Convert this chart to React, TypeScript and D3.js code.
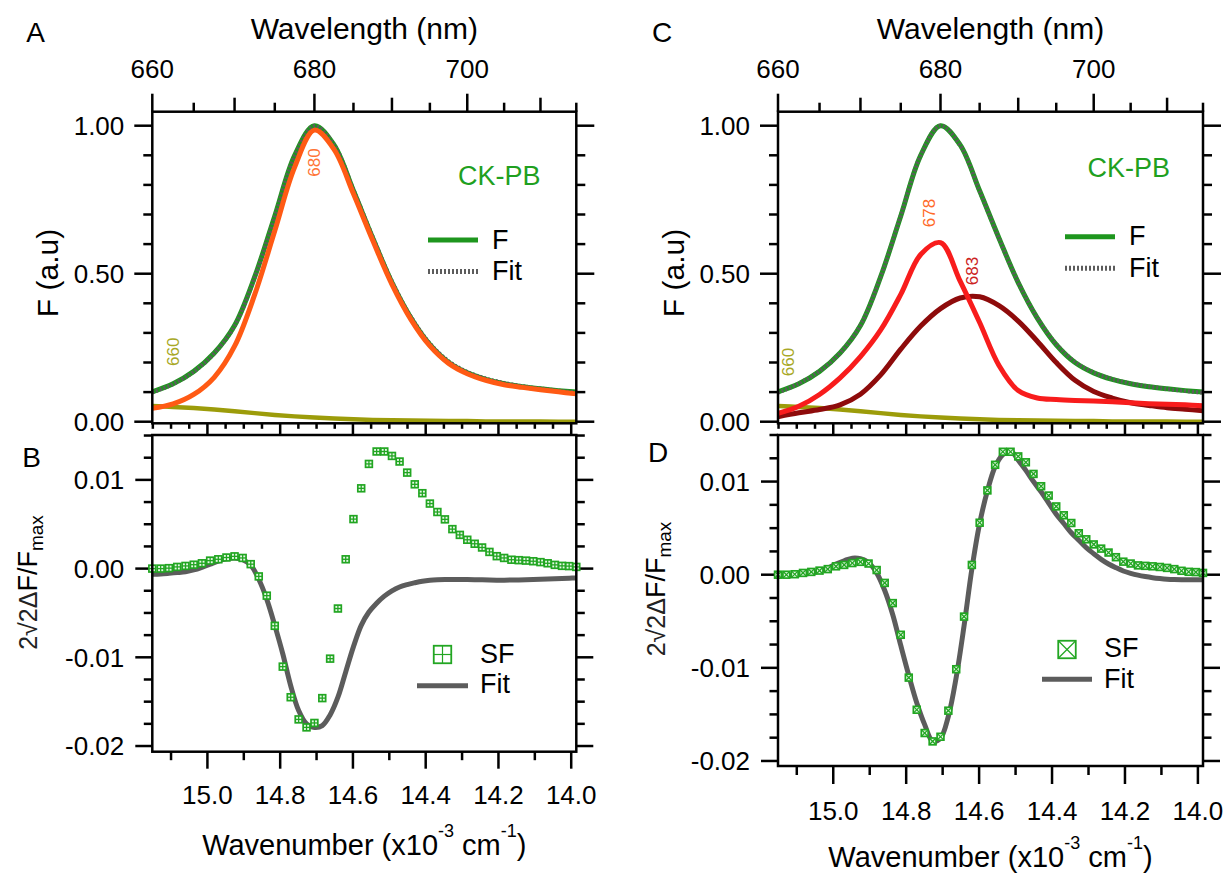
import React from 'react';
import * as d3 from 'd3';

// emission spectrum grid (nm) and band decomposition, CK-PB
const WL = [660, 662.5, 665, 667.5, 670, 672.5, 675, 677.5, 680, 682.5, 685, 687.5, 690, 692.5, 695, 697.5, 700, 702.5, 705, 707.5, 710, 712.5, 715];
const F_CKPB = [0.101, 0.128, 0.17, 0.232, 0.325, 0.49, 0.695, 0.9, 1.0, 0.935, 0.78, 0.62, 0.47, 0.35, 0.26, 0.2, 0.165, 0.143, 0.128, 0.118, 0.111, 0.105, 0.1];
const FIT_A = [0.099, 0.127, 0.169, 0.231, 0.324, 0.488, 0.693, 0.898, 0.999, 0.936, 0.783, 0.624, 0.474, 0.354, 0.264, 0.204, 0.168, 0.146, 0.131, 0.12, 0.112, 0.105, 0.099];
const BAND_660 = [0.053, 0.05, 0.046, 0.041, 0.035, 0.029, 0.023, 0.018, 0.014, 0.011, 0.008, 0.006, 0.005, 0.004, 0.003, 0.002, 0.002, 0.001, 0.001, 0.001, 0.001, 0.0, 0.0];
const BAND_680 = [0.045, 0.06, 0.092, 0.15, 0.255, 0.43, 0.645, 0.86, 0.985, 0.92, 0.77, 0.612, 0.464, 0.345, 0.256, 0.197, 0.162, 0.14, 0.125, 0.116, 0.108, 0.101, 0.094];
const FIT_C = [0.098, 0.129, 0.171, 0.232, 0.326, 0.49, 0.696, 0.9, 1.0, 0.934, 0.779, 0.619, 0.47, 0.351, 0.262, 0.202, 0.166, 0.144, 0.129, 0.119, 0.111, 0.104, 0.098];
const BAND_678 = [0.028, 0.052, 0.092, 0.148, 0.22, 0.31, 0.43, 0.565, 0.605, 0.475, 0.335, 0.19, 0.105, 0.08, 0.075, 0.072, 0.07, 0.067, 0.064, 0.061, 0.059, 0.057, 0.054];
const BAND_683 = [0.017, 0.03, 0.041, 0.057, 0.093, 0.158, 0.245, 0.323, 0.382, 0.418, 0.422, 0.392, 0.34, 0.272, 0.2, 0.14, 0.102, 0.08, 0.064, 0.055, 0.047, 0.042, 0.037];

// Stark signal, 1 nm steps, values in units of 1e-3
const WL_SF = [660, 661, 662, 663, 664, 665, 666, 667, 668, 669, 670, 671, 672, 673, 674, 675, 676, 677, 678, 679, 680, 681, 682, 683, 684, 685, 686, 687, 688, 689, 690, 691, 692, 693, 694, 695, 696, 697, 698, 699, 700, 701, 702, 703, 704, 705, 706, 707, 708, 709, 710, 711, 712, 713, 714, 715];
const SF = [0, 0, 0.05, 0.19, 0.3, 0.44, 0.6, 0.9, 1.05, 1.25, 1.38, 1.2, 0.5, -0.88, -3.05, -6.45, -11.05, -14.5, -17.0, -17.9, -17.4, -14.6, -10.15, -4.5, 1.05, 5.58, 9.05, 11.8, 13.2, 13.2, 12.7, 12.07, 10.82, 9.5, 8.5, 7.33, 6.38, 5.55, 4.45, 3.8, 3.25, 2.8, 2.38, 1.88, 1.4, 1.2, 1.0, 0.95, 0.9, 0.83, 0.73, 0.6, 0.42, 0.31, 0.28, 0.19];
const SF_FIT_B = [-0.64, -0.6, -0.53, -0.45, -0.35, -0.15, 0.15, 0.5, 0.85, 1.1, 1.2, 1.0, 0.4, -1.2, -3.46, -6.4, -9.6, -13.2, -16.0, -17.5, -17.9, -17.7, -16.5, -14.5, -11.65, -8.8, -6.4, -4.9, -3.9, -3.1, -2.5, -2.07, -1.8, -1.6, -1.43, -1.32, -1.26, -1.23, -1.22, -1.22, -1.23, -1.25, -1.27, -1.29, -1.3, -1.3, -1.29, -1.28, -1.26, -1.24, -1.21, -1.18, -1.15, -1.12, -1.08, -1.05];
const SF_FIT_D = [-0.1, -0.08, -0.05, 0.05, 0.15, 0.4, 0.7, 1.15, 1.5, 1.78, 1.72, 1.3, 0.2, -1.7, -4.3, -7.6, -10.8, -13.75, -16.1, -17.86, -17.55, -15.2, -11.0, -5.5, 0.6, 5.5, 9.0, 11.6, 12.9, 13.3, 12.3, 11.2, 10.0, 8.9, 7.7, 6.5, 5.5, 4.5, 3.7, 2.9, 2.25, 1.65, 1.15, 0.75, 0.4, 0.15, -0.05, -0.2, -0.32, -0.41, -0.48, -0.52, -0.54, -0.54, -0.54, -0.54];

const WL_LABELS = [660, 680, 700];
const WN_LABELS = [15.0, 14.8, 14.6, 14.4, 14.2, 14.0];
const F_LABELS = [0, 0.5, 1.0];
const SF_LABELS = [-0.02, -0.01, 0, 0.01];

const FONT = '"Liberation Sans", Arial, Helvetica, sans-serif';
const GREEN = '#1e961e';
const FIT_GRAY = '#5c5c5c';
const SF_GREEN = '#22a622';

const LEFT = { x0: 152.3, x1: 576.3 };
const RIGHT = { x0: 778, x1: 1203 };

const wn = (l: number) => 1e4 / l;
const xScale = (p: { x0: number; x1: number }) =>
  d3.scaleLinear().domain([wn(660), wn(715)]).range([p.x0, p.x1]);

const yTop = d3.scaleLinear().domain([-0.0054, 1.0473]).range([423.3, 111.7]);
const yB = d3.scaleLinear().domain([-0.02064, 0.01506]).range([751.7, 435]);
const yD = d3.scaleLinear().domain([-0.02054, 0.015]).range([766, 435]);

const isMult = (v: number, step: number) => Math.abs(v / step - Math.round(v / step)) < 1e-6;

const bandPath = (x: any, y: any, vals: number[]) =>
  d3.line<number>()
    .x((_, i) => x(wn(WL[i])))
    .y(v => y(v))
    .curve(d3.curveCatmullRom.alpha(0.5))(vals) || '';

const sfPath = (x: any, y: any, vals: number[]) =>
  d3.line<number>()
    .x((_, i) => x(wn(WL_SF[i])))
    .y(v => y(v / 1000))
    .curve(d3.curveCatmullRom.alpha(0.5))(vals) || '';

const txt = (size: number, extra: any = {}) => ({ fontFamily: FONT, fontSize: size, ...extra });

function SpectrumPanel({ p, letter, bands, fit, notes, legendX, legendY, tagPos }: any) {
  const x = xScale(p);
  const y = yTop;
  const top = 111.7, bottom = 423.3;
  const cx = (p.x0 + p.x1) / 2;
  const wlTicks = d3.range(660, 716, 5);
  const yTicks = d3.range(0, 1.0001, 0.1);
  const xTicks = d3.range(14.0, 15.151, 0.05);
  return (
    <g>
      <text x={p.x0 - 126} y={41.7} {...txt(28)}>{letter}</text>
      <text x={cx} y={38.5} textAnchor="middle" {...txt(30)}>Wavelength (nm)</text>
      {WL_LABELS.map(l => (
        <text key={l} x={x(wn(l))} y={78} textAnchor="middle" {...txt(26)}>{l}</text>
      ))}
      <g stroke="#000" strokeWidth={2.5}>
        {wlTicks.map(l => {
          const len = l % 20 === 0 ? 18 : l % 10 === 0 ? 14 : 9;
          return <line key={l} x1={x(wn(l))} x2={x(wn(l))} y1={top} y2={top - len} />;
        })}
        {yTicks.map((v, i) => {
          const len = isMult(v, 0.5) ? 18 : 9;
          return (
            <g key={i}>
              <line x1={p.x0} x2={p.x0 - len} y1={y(v)} y2={y(v)} />
              <line x1={p.x1} x2={p.x1 + len} y1={y(v)} y2={y(v)} />
            </g>
          );
        })}
        {xTicks.map((v, i) => {
          const len = isMult(v, 0.2) ? 11 : 5.5;
          return <line key={i} x1={x(v)} x2={x(v)} y1={bottom} y2={bottom + len} />;
        })}
      </g>
      {F_LABELS.map(v => (
        <text key={v} x={p.x0 - 28} y={y(v)} dy="0.36em" textAnchor="end" {...txt(26)}>{v.toFixed(2)}</text>
      ))}
      <text transform={`translate(${p.x0 - 94},273) rotate(-90)`} textAnchor="middle" {...txt(30)}>F (a.u)</text>

      <path d={bandPath(x, y, F_CKPB)} fill="none" stroke={GREEN} strokeWidth={5} />
      <path d={bandPath(x, y, fit)} fill="none" stroke={FIT_GRAY} strokeWidth={4} strokeDasharray="2 2" />
      {bands.map((b: any, i: number) => (
        <path key={i} d={bandPath(x, y, b.vals)} fill="none" stroke={b.color} strokeWidth={b.w} />
      ))}
      {notes.map((n: any, i: number) => (
        <text key={i} transform={`translate(${x(wn(n.wl))},${n.y}) rotate(-90)`} textAnchor="middle" dominantBaseline="central" {...txt(17, { fill: n.color })}>{n.label}</text>
      ))}

      <text x={tagPos[0]} y={tagPos[1]} {...txt(27, { fill: '#1fa01f' })}>CK-PB</text>
      <line x1={legendX} x2={legendX + 50} y1={legendY} y2={legendY} stroke={GREEN} strokeWidth={5} />
      <text x={legendX + 64} y={legendY + 8.5} {...txt(27)}>F</text>
      <line x1={legendX} x2={legendX + 50} y1={legendY + 31.5} y2={legendY + 31.5} stroke={FIT_GRAY} strokeWidth={5} strokeDasharray="2 2" />
      <text x={legendX + 64} y={legendY + 40} {...txt(27)}>Fit</text>

      <rect x={p.x0} y={top} width={p.x1 - p.x0} height={bottom - top} fill="none" stroke="#000" strokeWidth={2.5} />
    </g>
  );
}

function Marker({ cx, cy, s, cross }: any) {
  const h = s / 2;
  const big = s > 10;
  return (
    <g stroke={SF_GREEN}>
      <rect x={cx - h} y={cy - h} width={s} height={s} fill={big ? '#fff' : '#e6f6e6'} strokeWidth={big ? 1.8 : 1.7} />
      {cross ? (
        <g strokeWidth={big ? 1.2 : 1.3}>
          <line x1={cx - h} y1={cy - h} x2={cx + h} y2={cy + h} />
          <line x1={cx - h} y1={cy + h} x2={cx + h} y2={cy - h} />
        </g>
      ) : (
        <g strokeWidth={big ? 1.2 : 1.3}>
          <line x1={cx} y1={cy - h} x2={cx} y2={cy + h} />
          <line x1={cx - h} y1={cy} x2={cx + h} y2={cy} />
        </g>
      )}
    </g>
  );
}

function StarkPanel({ p, y, letter, letterY, fit, cross, labelsY, titleY, ylabelX, ylabelY, legend }: any) {
  const x = xScale(p);
  const top = 435;
  const bottom = y.range()[0];
  const cx = (p.x0 + p.x1) / 2;
  const yTicks = d3.range(-0.02, 0.01501, 0.0025);
  const xTicks = d3.range(14.0, 15.101, 0.1);
  const majLen = bottom > 760 ? 18 : 17;
  return (
    <g>
      <text x={p.x0 - 130} y={letterY} {...txt(28)}>{letter}</text>
      <g stroke="#000" strokeWidth={2.5}>
        {yTicks.map((v, i) => {
          const len = isMult(v, 0.01) ? 17 : 8.5;
          return (
            <g key={i}>
              <line x1={p.x0} x2={p.x0 - len} y1={y(v)} y2={y(v)} />
              <line x1={p.x1} x2={p.x1 + len} y1={y(v)} y2={y(v)} />
            </g>
          );
        })}
        {xTicks.map((v, i) => {
          const len = isMult(v, 0.2) ? majLen : majLen / 2;
          return <line key={i} x1={x(v)} x2={x(v)} y1={bottom} y2={bottom + len} />;
        })}
      </g>
      {SF_LABELS.map(v => (
        <text key={v} x={p.x0 - 28} y={y(v)} dy="0.36em" textAnchor="end" {...txt(26)}>{v.toFixed(2)}</text>
      ))}
      {WN_LABELS.map(v => (
        <text key={v} x={x(v)} y={labelsY} textAnchor="middle" {...txt(26)}>{v.toFixed(1)}</text>
      ))}
      <text x={cx} y={titleY} textAnchor="middle" {...txt(29)}>
        Wavenumber (x10<tspan fontSize={18} dy={-18}>-3</tspan><tspan dy={18}> cm</tspan><tspan fontSize={18} dy={-18}>-1</tspan><tspan dy={18}>)</tspan>
      </text>
      <text transform={`translate(${ylabelX},${ylabelY}) rotate(-90)`} textAnchor="middle" {...txt(27)}>
        <tspan fontSize={25} fill="#222">2√2Δ</tspan>F/F<tspan fontSize={19} dy={6}>max</tspan>
      </text>

      <path d={sfPath(x, y, fit)} fill="none" stroke={FIT_GRAY} strokeWidth={5} />
      {SF.map((v, i) => (
        <Marker key={i} cx={x(wn(WL_SF[i]))} cy={y(v / 1000)} s={6.8} cross={cross} />
      ))}

      <Marker cx={legend.box[0]} cy={legend.box[1]} s={17.5} cross={cross} />
      <text x={legend.text} y={legend.sfY} {...txt(27)}>SF</text>
      <line x1={legend.line[0]} x2={legend.line[1]} y1={legend.lineY} y2={legend.lineY} stroke={FIT_GRAY} strokeWidth={5} />
      <text x={legend.text} y={legend.fitY} {...txt(27)}>Fit</text>

      <rect x={p.x0} y={top} width={p.x1 - p.x0} height={bottom - top} fill="none" stroke="#000" strokeWidth={2.5} />
    </g>
  );
}

export default function App() {
  return (
    <svg width={1227} height={875} style={{ position: 'absolute', left: 0, top: 0, background: '#fff' }}>
      <SpectrumPanel
        p={LEFT}
        letter="A"
        fit={FIT_A}
        bands={[
          { vals: BAND_660, color: '#9c9c0a', w: 4.5 },
          { vals: BAND_680, color: '#ff5a14', w: 5 },
        ]}
        notes={[
          { wl: 680, y: 162.5, label: '680', color: '#ff7436' },
          { wl: 662.5, y: 351.7, label: '660', color: '#a8a826' },
        ]}
        legendX={428}
        legendY={240}
        tagPos={[458, 185]}
      />
      <SpectrumPanel
        p={RIGHT}
        letter="C"
        fit={FIT_C}
        bands={[
          { vals: BAND_660, color: '#9c9c0a', w: 4.5 },
          { vals: BAND_683, color: '#8e0b0b', w: 5 },
          { vals: BAND_678, color: '#f81c1c', w: 5 },
        ]}
        notes={[
          { wl: 678.6, y: 213, label: '678', color: '#ff6a2a' },
          { wl: 684.1, y: 271, label: '683', color: '#cc2222' },
          { wl: 661.2, y: 362, label: '660', color: '#a8a826' },
        ]}
        legendX={1065}
        legendY={236.7}
        tagPos={[1087.6, 177.3]}
      />
      <StarkPanel
        p={LEFT}
        y={yB}
        letter="B"
        letterY={466.7}
        fit={SF_FIT_B}
        cross={false}
        labelsY={803.5}
        titleY={855}
        ylabelX={37}
        ylabelY={582.5}
        legend={{ box: [442.5, 654.5], text: 480, sfY: 663, line: [417, 468], lineY: 685.7, fitY: 693 }}
      />
      <StarkPanel
        p={RIGHT}
        y={yD}
        letter="D"
        letterY={461.7}
        fit={SF_FIT_D}
        cross={true}
        labelsY={820}
        titleY={867}
        ylabelX={665.4}
        ylabelY={589}
        legend={{ box: [1067, 649.5], text: 1104, sfY: 656.7, line: [1042, 1092], lineY: 679.3, fitY: 688.3 }}
      />
    </svg>
  );
}
